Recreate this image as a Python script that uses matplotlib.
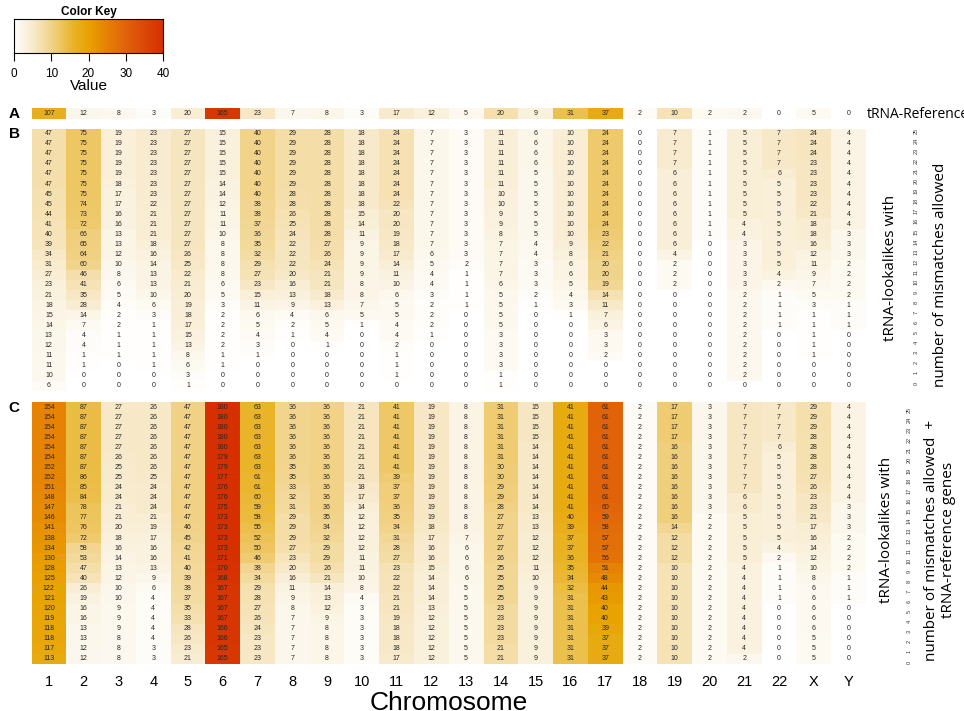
import matplotlib.pyplot as plt
import numpy as np
from matplotlib.colors import LinearSegmentedColormap

plt.rcParams['font.family'] = ['Liberation Sans', 'DejaVu Sans']

W, H = 964, 711

chromosomes = [str(i) for i in range(1, 23)] + ['X', 'Y']
# chromosome lengths (Mb), colour = count per length, scaled to the 0-40 key
chrom_length_mb = [249.25, 243.20, 198.02, 191.15, 180.92, 171.12, 159.14, 146.36,
                   141.21, 135.53, 135.01, 133.85, 115.17, 107.35, 102.53, 90.35,
                   81.20, 78.08, 59.13, 63.03, 48.13, 51.30, 155.27, 59.37]

reference = [107, 12, 8, 3, 20, 165, 23, 7, 8, 3, 17, 12, 5, 20, 9, 31, 37, 2, 10, 2, 2, 0, 5, 0]

mismatches = list(range(25, -1, -1))  # row order top -> bottom

# lookalikes per chromosome, for 25 .. 0 mismatches allowed
lookalikes = [
    [47, 47, 47, 47, 47, 47, 45, 45, 44, 41, 40, 39, 34, 31, 27, 23, 21, 18, 15, 14, 13, 12, 11, 11, 10, 6],
    [75, 75, 75, 75, 75, 75, 75, 74, 73, 72, 66, 65, 64, 60, 46, 41, 35, 28, 14, 7, 4, 4, 1, 1, 0, 0],
    [19, 19, 19, 19, 19, 18, 17, 17, 16, 16, 13, 13, 12, 10, 8, 6, 5, 4, 2, 2, 1, 1, 1, 0, 0, 0],
    [23, 23, 23, 23, 23, 23, 23, 22, 21, 21, 21, 18, 16, 14, 13, 13, 10, 6, 3, 1, 1, 1, 1, 1, 0, 0],
    [27, 27, 27, 27, 27, 27, 27, 27, 27, 27, 27, 27, 26, 25, 22, 21, 20, 19, 18, 17, 15, 13, 8, 6, 3, 1],
    [15, 15, 15, 15, 15, 14, 14, 12, 11, 11, 10, 8, 8, 8, 8, 6, 5, 3, 2, 2, 2, 2, 1, 1, 0, 0],
    [40, 40, 40, 40, 40, 40, 40, 38, 38, 37, 36, 35, 32, 29, 27, 23, 15, 11, 6, 5, 4, 3, 1, 0, 0, 0],
    [29, 29, 29, 29, 29, 29, 28, 28, 26, 25, 24, 22, 22, 22, 20, 16, 13, 9, 4, 2, 1, 0, 0, 0, 0, 0],
    [28, 28, 28, 28, 28, 28, 28, 28, 28, 28, 28, 27, 26, 24, 21, 21, 18, 13, 6, 5, 4, 1, 0, 0, 0, 0],
    [18, 18, 18, 18, 18, 18, 18, 18, 15, 14, 11, 9, 9, 9, 9, 8, 8, 7, 5, 1, 0, 0, 0, 0, 0, 0],
    [24, 24, 24, 24, 24, 24, 24, 22, 20, 20, 19, 18, 17, 14, 11, 10, 6, 5, 5, 4, 4, 2, 1, 1, 1, 0],
    [7, 7, 7, 7, 7, 7, 7, 7, 7, 7, 7, 7, 6, 5, 4, 4, 3, 2, 2, 2, 1, 0, 0, 0, 0, 0],
    [3, 3, 3, 3, 3, 3, 3, 3, 3, 3, 3, 3, 3, 2, 1, 1, 1, 1, 0, 0, 0, 0, 0, 0, 0, 0],
    [11, 11, 11, 11, 11, 11, 10, 10, 9, 9, 8, 7, 7, 7, 7, 6, 5, 5, 5, 5, 3, 3, 3, 3, 1, 1],
    [6, 6, 6, 6, 5, 5, 5, 5, 5, 5, 5, 4, 4, 3, 3, 3, 2, 1, 0, 0, 0, 0, 0, 0, 0, 0],
    [10, 10, 10, 10, 10, 10, 10, 10, 10, 10, 10, 9, 8, 6, 6, 5, 4, 3, 1, 0, 0, 0, 0, 0, 0, 0],
    [24, 24, 24, 24, 24, 24, 24, 24, 24, 24, 23, 22, 21, 20, 20, 19, 14, 11, 7, 6, 3, 3, 2, 0, 0, 0],
    [0] * 26,
    [7, 7, 7, 7, 6, 6, 6, 6, 6, 6, 6, 6, 4, 2, 2, 2, 0, 0, 0, 0, 0, 0, 0, 0, 0, 0],
    [1, 1, 1, 1, 1, 1, 1, 1, 1, 1, 1, 0, 0, 0, 0, 0, 0, 0, 0, 0, 0, 0, 0, 0, 0, 0],
    [5, 5, 5, 5, 5, 5, 5, 5, 5, 4, 4, 3, 3, 3, 3, 3, 2, 2, 2, 2, 2, 2, 2, 2, 2, 0],
    [7, 7, 7, 7, 6, 5, 5, 5, 5, 5, 5, 5, 5, 5, 4, 2, 1, 1, 1, 1, 0, 0, 0, 0, 0, 0],
    [24, 24, 24, 23, 23, 23, 23, 22, 21, 18, 18, 16, 12, 11, 9, 7, 5, 3, 1, 1, 1, 1, 1, 0, 0, 0],
    [4, 4, 4, 4, 4, 4, 4, 4, 4, 4, 3, 3, 3, 2, 2, 2, 2, 1, 1, 1, 0, 0, 0, 0, 0, 0],
]

cmap = LinearSegmentedColormap.from_list('key', [
    (0.0, '#FFFFFF'), (0.12, '#F8EBCF'), (0.25, '#F1D38A'), (0.40, '#E9B326'),
    (0.50, '#E8A200'), (0.65, '#E57B06'), (0.80, '#DF580B'), (1.0, '#D63000')])


def box(left, top, right, bottom):
    return [left / W, 1 - bottom / H, (right - left) / W, (bottom - top) / H]


def draw_panel(ax, counts):
    # counts: rows top -> bottom, columns = chromosomes
    counts = np.asarray(counts)[::-1]
    nrows = counts.shape[0]
    dens = counts / np.array(chrom_length_mb) * 40
    ax.pcolormesh(np.arange(25), np.arange(nrows + 1), dens, cmap=cmap, vmin=0, vmax=40)
    for i in range(nrows):
        for j in range(24):
            ax.text(j + 0.5, i + 0.5, str(counts[i, j]), ha='center', va='center',
                    fontsize=5, color='#262626')
    ax.set_xlim(0, 24)
    ax.set_ylim(0, nrows)
    for s in ax.spines.values():
        s.set_visible(False)
    ax.set_xticks([])
    ax.set_yticks([])


fig = plt.figure(figsize=(W / 100, H / 100), dpi=100)

look = np.array(lookalikes).T                 # rows = mismatches 25..0
combined = look + np.array(reference)[None, :]

left, right = 31.5, 866
axA = fig.add_axes(box(left, 108, right, 118.5))
axB = fig.add_axes(box(left, 128.5, right, 391))
axC = fig.add_axes(box(left, 402, right, 664))
draw_panel(axA, [reference])
draw_panel(axB, look)
draw_panel(axC, combined)

axC.set_xticks(np.arange(24) + 0.5)
axC.set_xticklabels(chromosomes, fontsize=10.5)
axC.tick_params(axis='x', length=0, pad=8)
axC.set_xlabel('Chromosome', fontsize=19, labelpad=1)

# panel letters
for letter, y in [('A', 114), ('B', 134), ('C', 408)]:
    fig.text(14 / W, 1 - y / H, letter, fontsize=11, fontweight='bold', ha='center', va='center')

# colour key
axK = fig.add_axes(box(14, 19, 163, 53))
axK.imshow(np.linspace(0, 40, 256)[None, :], aspect='auto', cmap=cmap, extent=[0, 40, 0, 1])
axK.set_yticks([])
axK.set_xticks([0, 10, 20, 30, 40])
axK.tick_params(axis='x', length=6, labelsize=8.5, pad=5)
axK.set_title('Color Key', fontsize=8.5, fontweight='bold', pad=3)
axK.set_xlabel('Value', fontsize=11, labelpad=-1)

# right-hand labels
side = ['Open Sans', 'DejaVu Sans']
fig.text(918 / W, 1 - 114 / H, 'tRNA-Reference', fontsize=10, family=side, ha='center', va='center')
row_h = (391 - 128.5) / 26
for k, m in enumerate(mismatches):
    fig.text(916 / W, 1 - (128.5 + row_h * (k + 0.5) - 3) / H, str(m), fontsize=4,
             rotation=90, ha='center', va='center', color='#333333')
fig.text(890 / W, 1 - 268 / H, 'tRNA-lookalikes with', fontsize=11, family=side,
         rotation=90, ha='center', va='center')
fig.text(940 / W, 1 - 275 / H, 'number of mismatches allowed', fontsize=11, family=side,
         rotation=90, ha='center', va='center')

row_h = (664 - 402) / 26
for k, m in enumerate(mismatches):
    fig.text(909 / W, 1 - (402 + row_h * (k + 0.5) + 3) / H, str(m), fontsize=4,
             rotation=90, ha='center', va='center', color='#333333')
fig.text(886 / W, 1 - 530 / H, 'tRNA-lookalikes with', fontsize=11, family=side,
         rotation=90, ha='center', va='center')
fig.text(940 / W, 1 - 540 / H, 'number of mismatches allowed  +\ntRNA-reference genes', fontsize=11,
         family=side, rotation=90, ha='center', va='center', linespacing=1.1)

fig.savefig('out.png', dpi=100)
